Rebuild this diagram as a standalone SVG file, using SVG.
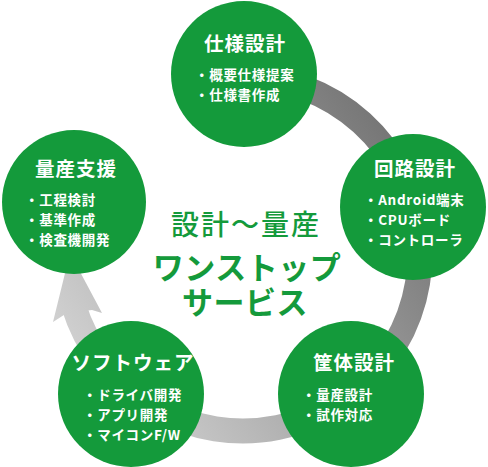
<svg xmlns="http://www.w3.org/2000/svg" width="488" height="467" viewBox="0 0 488 467">
<defs>
<linearGradient id="ringGrad" gradientUnits="userSpaceOnUse" x1="420" y1="160" x2="100" y2="380">
<stop offset="0" stop-color="#747474"/>
<stop offset="1" stop-color="#cfcfcf"/>
</linearGradient>
<style>
.node circle{fill:#149a3b}
.title{font-family:"Noto Sans CJK JP","Noto Sans",sans-serif;font-weight:700;font-size:19.5px;fill:#fff;text-anchor:middle;letter-spacing:1px}
.item{font-family:"Noto Sans CJK JP","Noto Sans",sans-serif;font-weight:700;font-size:13.5px;fill:#fff;letter-spacing:0.7px}
.lead{font-family:"Noto Sans CJK JP","Noto Sans",sans-serif;font-weight:500;font-size:28px;fill:#149a3b;text-anchor:middle;letter-spacing:2px}
.big{font-family:"Noto Sans CJK JP","Noto Sans",sans-serif;font-weight:700;font-size:31px;fill:#149a3b;text-anchor:middle;letter-spacing:0.5px}
</style>
</defs>
<g id="connectors">
<path d="M 243 77 A 177 177 0 1 1 73.7 305.8" fill="none" stroke="url(#ringGrad)" stroke-width="25"/>
<polygon points="70,253 102,313 92,310 67,313 53,322" fill="url(#ringGrad)"/>
</g>
<g id="node-spec" class="node">
<circle cx="244" cy="74" r="73"/>
<text class="title" x="245" y="51">仕様設計</text>
<text class="item" x="195" y="80">・概要仕様提案</text>
<text class="item" x="195" y="100">・仕様書作成</text>
</g>
<g id="node-circuit" class="node">
<circle cx="413" cy="207" r="73"/>
<text class="title" x="415" y="176">回路設計</text>
<text class="item" x="364" y="205">・Android端末</text>
<text class="item" x="364" y="225">・CPUボード</text>
<text class="item" x="364" y="245">・コントローラ</text>
</g>
<g id="node-massprod" class="node">
<circle cx="74" cy="202" r="72"/>
<text class="title" x="76" y="176">量産支援</text>
<text class="item" x="25" y="205">・工程検討</text>
<text class="item" x="25" y="225">・基準作成</text>
<text class="item" x="25" y="245">・検査機開発</text>
</g>
<g id="node-software" class="node">
<circle cx="131" cy="394" r="73"/>
<text class="title" x="133" y="370">ソフトウェア</text>
<text class="item" x="83" y="400">・ドライバ開発</text>
<text class="item" x="83" y="420">・アプリ開発</text>
<text class="item" x="83" y="440">・マイコンF/W</text>
</g>
<g id="node-housing" class="node">
<circle cx="351" cy="394" r="73"/>
<text class="title" x="354" y="370">筐体設計</text>
<text class="item" x="302" y="400">・量産設計</text>
<text class="item" x="302" y="420">・試作対応</text>
</g>
<g id="center-text">
<text class="lead" x="246" y="235">設計〜量産</text>
<text class="big" x="247" y="279">ワンストップ</text>
<text class="big" x="245" y="314">サービス</text>
</g>
</svg>
